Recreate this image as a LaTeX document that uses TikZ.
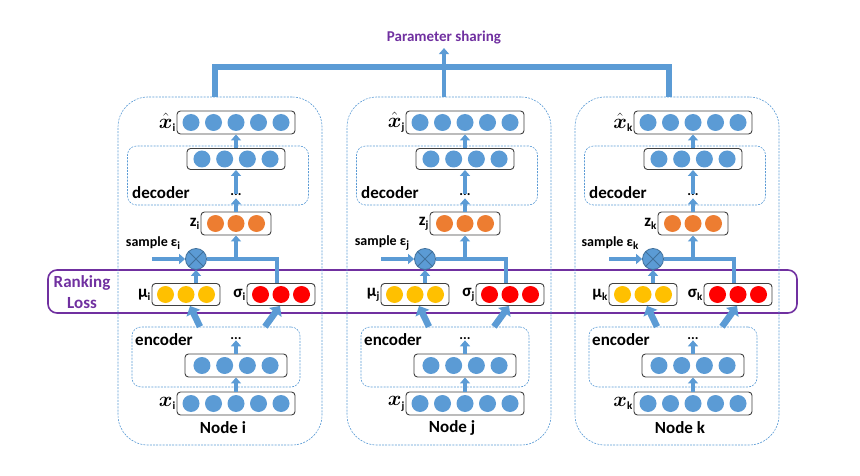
\documentclass[tikz,border=0pt]{standalone}
\usepackage{amsmath}
\usepackage{fontspec}
\setmainfont{Carlito}
\usetikzlibrary{arrows.meta,calc}
\definecolor{unitB}{HTML}{5B9BD5}
\definecolor{unitD}{HTML}{41719C}
\definecolor{zOr}{HTML}{ED7D31}
\definecolor{muY}{HTML}{FFC000}
\definecolor{sigR}{HTML}{FF0000}
\definecolor{rankP}{HTML}{7030A0}
\definecolor{boxG}{HTML}{404040}
\newcommand{\lo}[1]{\raisebox{-0.35ex}{\fontsize{11}{11}\selectfont\bfseries #1}}
\newcommand{\units}[4]{\foreach \k in {1,...,#2}
  \fill[#3] ([xshift={(\k-(#2+1)/2)*#4}]#1.center) circle (8.5);}

\begin{document}
\begin{tikzpicture}[x=1pt,y=-1pt,>={Triangle[width=10pt,length=6pt]},
  panel/.style={draw=unitB,dash pattern=on 2pt off 1.2pt,line width=0.6pt,rounded corners=30pt},
  part/.style={draw=unitB,dash pattern=on 2pt off 1.2pt,line width=0.6pt,rounded corners=9pt},
  layer/.style={draw=boxG,line width=0.9pt,fill=white,rounded corners=3.5pt,minimum height=23pt,inner sep=0pt},
  flow/.style={unitB,line width=4pt},
  fat/.style={unitB,line width=6.5pt,>={Triangle[width=15pt,length=8pt]}},
  tag/.style={font=\bfseries\fontsize{17}{17}\selectfont,inner sep=1pt},
  vec/.style={font=\fontsize{22}{22}\selectfont,inner sep=1pt},
  dotsty/.style={font=\bfseries\fontsize{14}{14}\selectfont,inner sep=0pt,anchor=base}]
  \useasboundingbox (0,0) rectangle (860,476);
  \node[draw=rankP,line width=1.6pt,rounded corners=9pt,minimum width=749pt,minimum height=43pt,inner sep=0pt] (rank) at (422.5,291.5) {};
  \node[tag,text=rankP,align=center,font=\bfseries\fontsize{17}{21}\selectfont] (rankt) at (82,292) {Ranking\\Loss};
  \foreach \n/\o in {i/0,j/229,k/457}{
    \node[panel,minimum width=204pt,minimum height=348pt] (pan-\n) at ({\o+220},271) {};
    \node[part,minimum width=181pt,minimum height=59pt] (dec-\n) at ({\o+218},175.5) {};
    \node[part,minimum width=168pt,minimum height=60pt] (enc-\n) at ({\o+216},357) {};
    \node[layer,minimum width=118pt] (xh-\n) at ({\o+236},122.5) {};
    \node[layer,minimum width=98pt,minimum height=21pt] (hd-\n) at ({\o+236},159) {};
    \node[layer,minimum width=70pt] (z-\n) at ({\o+236},223.5) {};
    \node[layer,minimum width=68pt,minimum height=22pt] (mu-\n) at ({\o+186},294.5) {};
    \node[layer,minimum width=68pt,minimum height=22pt] (sig-\n) at ({\o+281},294.5) {};
    \node[layer,minimum width=102pt] (he-\n) at ({\o+236},365.5) {};
    \node[layer,minimum width=118pt] (x-\n) at ({\o+236},403.5) {};
    \units{xh-\n}{5}{unitB}{22.5}
    \units{hd-\n}{4}{unitB}{22.7}
    \units{z-\n}{3}{zOr}{20.5}
    \units{mu-\n}{3}{muY}{20.5}
    \units{sig-\n}{3}{sigR}{20.5}
    \units{he-\n}{4}{unitB}{22.7}
    \units{x-\n}{5}{unitB}{22.5}
    \node[vec,anchor=east] (xhl-\n) at (xh-\n.west) {$\hat{\boldsymbol{x}}$\lo{\n}};
    \node[tag,anchor=east] (zl-\n) at (z-\n.west) {z\lo{\n}};
    \node[tag,anchor=east] (mut-\n) at (mu-\n.west) {μ\lo{\n}};
    \node[tag,anchor=east] (sgt-\n) at (sig-\n.west) {σ\lo{\n}};
    \node[vec,anchor=east] (xl-\n) at (x-\n.west) {$\boldsymbol{x}$\lo{\n}};
    \node[tag,anchor=base west] (dect-\n) at ({\o+131},199) {decoder};
    \node[tag,anchor=base west] (enct-\n) at ({\o+134},345) {encoder};
    \node[dotsty] (dd-\n) at ({\o+236},196) {...};
    \node[dotsty] (de-\n) at ({\o+236},339) {...};
    \node[tag] (nm-\n) at ({\o+223},428) {Node \n};
    \node[circle,fill=unitB,draw=unitD,line width=0.8pt,minimum size=21pt,inner sep=0pt] (prod-\n) at ({\o+196},259) {};
    \draw[unitD,line width=0.8pt] (prod-\n.45) -- (prod-\n.225) (prod-\n.135) -- (prod-\n.315);
    \node[font=\bfseries\fontsize{14}{14}\selectfont,inner sep=0pt] (smpt-\n) at ({\o+153},243) {sample ε\lo{\n}};
    \coordinate (smp-\n) at ({\o+152},259);
    \draw[flow,->] (x-\n) -- (he-\n);
    \draw[flow,->] (he-\n.north) -- ([yshift=-1pt]de-\n.south);
    \draw[flow,->] (hd-\n) -- (xh-\n);
    \draw[flow,->] (dd-\n.north) -- (hd-\n.south);
    \draw[flow,->] (z-\n.north) -- ([yshift=-2pt]dd-\n.south);
    \draw[flow] ([xshift=-4pt]sig-\n.north) |- (prod-\n.east);
    \draw[flow,->] (mu-\n.north -| prod-\n) -- (prod-\n.south);
    \draw[flow,->] (prod-\n.east -| z-\n) -- (z-\n.south);
    \draw[flow,->] (smp-\n) -- (prod-\n.west);
    \draw[fat,->] ([xshift=-16pt]enc-\n.north) -- ([xshift=4pt]mu-\n.south);
    \draw[fat,->] ([xshift=49pt]enc-\n.north) -- ([xshift=-1pt]sig-\n.south);
  }
  \coordinate (shl) at (215,67);
  \coordinate (shr) at (669,67);
  \draw[unitB,line width=6pt] (shl |- pan-i.north) -- (shl) -- (shr) -- (shr |- pan-k.north);
  \node[font=\bfseries\fontsize{15}{15}\selectfont,text=rankP] (share) at (444,38) {Parameter sharing};
  \draw[flow,->] (pan-j.north -| share) -- (share.south);
\end{tikzpicture}
\end{document}
